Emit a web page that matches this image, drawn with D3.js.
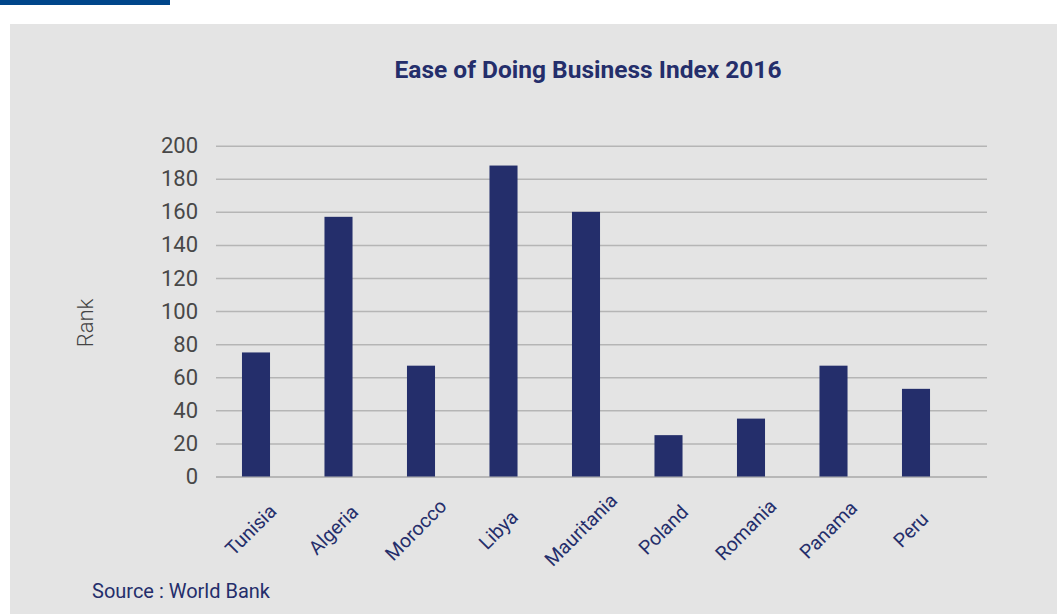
<!DOCTYPE html>
<html>
<head>
<meta charset="utf-8">
<script src="https://cdn.jsdelivr.net/npm/d3@7"></script>
<style>
  html, body { margin: 0; padding: 0; background: #ffffff; }
  svg { display: block; }
</style>
</head>
<body>
<svg id="chart" width="1057" height="614"></svg>
<script>
// Ease of Doing Business ranks, 2016
const countries = ["Tunisia", "Algeria", "Morocco", "Libya", "Mauritania", "Poland", "Romania", "Panama", "Peru"];
const ranks = [75, 157, 67, 188, 160, 25, 35, 67, 53];
const yTicks = [0, 20, 40, 60, 80, 100, 120, 140, 160, 180, 200];

const titleText = "Ease of Doing Business Index 2016";
const yAxisTitle = "Rank";
const sourceText = "Source : World Bank";

const W = 1057, H = 614;
const navy = "#242e6b";
const font = "Roboto, 'Noto Sans', sans-serif";

const svg = d3.select("#chart");

// page decoration: accent strip and grey panel
svg.append("rect").attr("x", 0).attr("y", 0).attr("width", 170).attr("height", 5).attr("fill", "#00468a");
svg.append("rect").attr("x", 10).attr("y", 24).attr("width", W - 10).attr("height", H - 24).attr("fill", "#e4e4e4");

const plot = { left: 216, right: 987, top: 145.7, bottom: 476.5 };

const x = d3.scaleBand()
  .domain(countries)
  .range([214.75, 957.25])
  .paddingInner(0.66)
  .paddingOuter(0.33);

const y = d3.scaleLinear()
  .domain([0, 200])
  .range([plot.bottom, plot.top]);

// horizontal gridlines with value labels
const yAxis = d3.axisLeft(y)
  .tickValues(yTicks)
  .tickSize(-(plot.right - plot.left))
  .tickPadding(18);

const gy = svg.append("g")
  .attr("transform", `translate(${plot.left},0)`)
  .call(yAxis);
gy.select(".domain").remove();
gy.selectAll(".tick line")
  .attr("stroke", d => d === 0 ? "#a8a8a8" : "#b5b5b5")
  .attr("stroke-width", 1.5);
gy.selectAll(".tick text")
  .attr("fill", "#484848")
  .style("font-family", font)
  .style("font-size", "22px")
  .style("font-weight", 400);

// bars
svg.append("g").selectAll("rect")
  .data(countries)
  .join("rect")
  .attr("x", d => x(d))
  .attr("width", x.bandwidth())
  .attr("y", (d, i) => y(ranks[i]))
  .attr("height", (d, i) => y(0) - y(ranks[i]))
  .attr("fill", navy);

// rotated category labels
svg.append("g").selectAll("text")
  .data(countries)
  .join("text")
  .attr("transform", d => `translate(${x(d) + x.bandwidth() / 2 - 5},530) rotate(-45)`)
  .attr("text-anchor", "middle")
  .attr("dominant-baseline", "central")
  .attr("fill", navy)
  .style("font-family", font)
  .style("font-size", "19.5px")
  .text(d => d);

// title
svg.append("text")
  .attr("x", 588)
  .attr("y", 78)
  .attr("text-anchor", "middle")
  .attr("fill", navy)
  .style("font-family", font)
  .style("font-size", "24.5px")
  .style("font-weight", 700)
  .text(titleText);

// y axis title
svg.append("text")
  .attr("transform", "translate(93,323) rotate(-90)")
  .attr("text-anchor", "middle")
  .attr("fill", "#444444")
  .style("font-family", font)
  .style("font-size", "22px")
  .style("font-weight", 300)
  .text(yAxisTitle);

// source note
svg.append("text")
  .attr("x", 92)
  .attr("y", 598)
  .attr("fill", navy)
  .style("font-family", font)
  .style("font-size", "20px")
  .text(sourceText);
</script>
</body>
</html>
